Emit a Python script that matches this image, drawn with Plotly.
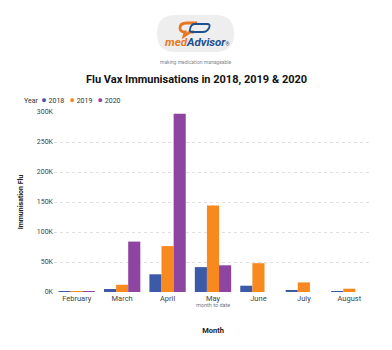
import plotly.graph_objects as go

months = ["February", "March", "April", "May", "June", "July", "August"]
years = ["2018", "2019", "2020"]
v2018 = [700, 5000, 29500, 41500, 10500, 3000, 1500]
v2019 = [500, 12000, 76500, 144000, 48000, 16000, 5500]
v2020 = [400, 84000, 297000, 44500, None, None, None]
colors = ["#3d5aa9", "#f7891e", "#8e44a1"]
ytick_vals = [0, 50000, 100000, 150000, 200000, 250000, 300000]
ytick_text = ["0K", "50K", "100K", "150K", "200K", "250K", "300K"]

W, H = 392, 350
ML, MR, MT, MB = 54, 20, 112, 58
PW, PH = W - ML - MR, H - MT - MB


def px(x):
    return (x - ML) / PW


def py(y):
    return (H - MB - y) / PH


FONT = "Roboto"
fig = go.Figure()
for name, vals, c in zip(years, [v2018, v2019, v2020], colors):
    fig.add_trace(go.Bar(x=months, y=vals, name=name, marker_color=c,
                         marker_line_width=0, showlegend=False))

fig.update_layout(
    width=W, height=H,
    margin=dict(l=ML, r=MR, t=MT, b=MB),
    paper_bgcolor="white", plot_bgcolor="white",
    barmode="group", bargap=0.2, bargroupgap=0,
    font=dict(family=FONT, size=7, color="#444"),
    xaxis=dict(showgrid=False, showline=False, ticks="",
               tickfont=dict(size=7.5, color="#444"),
               title=dict(text="<b>Month</b>", font=dict(size=7.5, color="#222"), standoff=26)),
    yaxis=dict(range=[0, 300000], tickvals=ytick_vals, ticktext=ytick_text,
               showgrid=True, gridcolor="#e0e0e0", griddash="dot", gridwidth=1,
               zeroline=False, showline=False, ticks="",
               tickfont=dict(size=7, color="#444"),
               title=dict(text="<b>Immunisation Flu</b>", font=dict(size=7, color="#222"), standoff=12)),
)

# title
fig.add_annotation(text="<b>Flu Vax Immunisations in 2018, 2019 &amp; 2020</b>",
                   xref="paper", yref="paper", x=px(196), y=py(79), showarrow=False,
                   xanchor="center", yanchor="middle", font=dict(size=11, color="#111", family=FONT))

# legend (text-based)
leg = ("Year&nbsp;&nbsp;" + "&nbsp;&nbsp;&nbsp;".join(
    f"<span style='color:{c};font-size:9px'>●</span>&nbsp;{y}" for y, c in zip(years, colors)))
fig.add_annotation(text=leg, xref="paper", yref="paper", x=px(22), y=py(100), showarrow=False,
                   xanchor="left", yanchor="middle", font=dict(size=7, color="#333", family=FONT))

# month to date note
fig.add_annotation(text="month to date", xref="x", x="May", yref="paper", y=0, yshift=-13,
                   showarrow=False, yanchor="middle", font=dict(size=5.5, color="#777", family=FONT))

# logo pill
x0, x1, y0, y1 = 157, 234, 15, 52
r = (y1 - y0) / 2
pill = (f"M {px(x0 + r)} {py(y0)} L {px(x1 - r)} {py(y0)} "
        f"Q {px(x1)} {py(y0)} {px(x1)} {py((y0 + y1) / 2)} "
        f"Q {px(x1)} {py(y1)} {px(x1 - r)} {py(y1)} "
        f"L {px(x0 + r)} {py(y1)} "
        f"Q {px(x0)} {py(y1)} {px(x0)} {py((y0 + y1) / 2)} "
        f"Q {px(x0)} {py(y0)} {px(x0 + r)} {py(y0)} Z")
fig.add_shape(type="path", path=pill, xref="paper", yref="paper",
              fillcolor="#eeeeee", line=dict(width=0), layer="below")

# icon: orange bubble outline
orange = (f"M {px(197)} {py(23)} L {px(187)} {py(23)} "
          f"Q {px(180)} {py(23)} {px(180)} {py(28)} "
          f"Q {px(180)} {py(32)} {px(185)} {py(32)} "
          f"L {px(184)} {py(36)} L {px(190)} {py(32)} L {px(194)} {py(32)}")
fig.add_shape(type="path", path=orange, xref="paper", yref="paper",
              line=dict(color="#e87722", width=2.8))
blue = (f"M {px(195)} {py(24)} L {px(207)} {py(24)} "
        f"Q {px(211)} {py(24)} {px(209)} {py(28)} "
        f"Q {px(207)} {py(32)} {px(203)} {py(32)} "
        f"L {px(192)} {py(32)} Q {px(189)} {py(32)} {px(190)} {py(29)} "
        f"Q {px(191)} {py(24)} {px(195)} {py(24)} Z")
fig.add_shape(type="path", path=blue, xref="paper", yref="paper",
              line=dict(color="#1e4f91", width=1.8))

fig.add_annotation(text="<b><i><span style='color:#e87722'>med</span>"
                        "<span style='color:#1e4f91'>Advisor</span></i></b>"
                        "<span style='font-size:5px;color:#1e4f91'>®</span>",
                   xref="paper", yref="paper", x=px(197), y=py(42), showarrow=False,
                   xanchor="center", yanchor="middle", font=dict(size=11.5, family=FONT))
fig.add_annotation(text="making medication manageable", xref="paper", yref="paper",
                   x=px(196), y=py(62), showarrow=False, xanchor="center", yanchor="middle",
                   font=dict(size=5, color="#888", family=FONT))

fig.write_html("out.html")
